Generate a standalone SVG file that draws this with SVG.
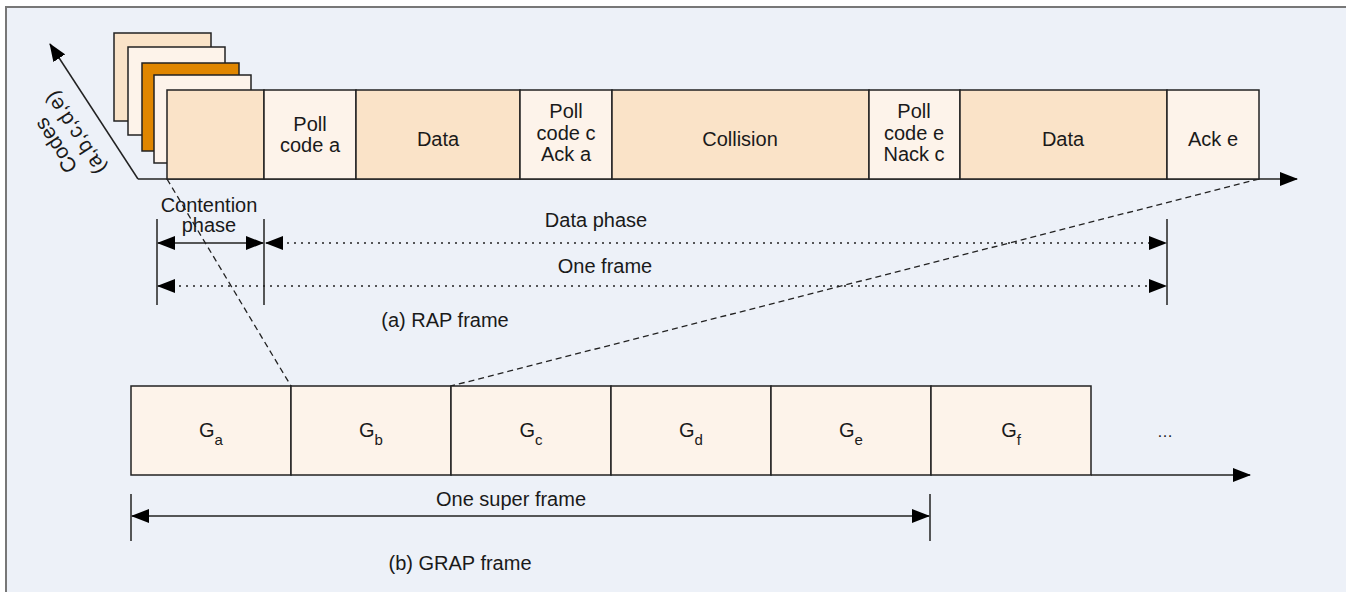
<svg xmlns="http://www.w3.org/2000/svg" width="1346" height="592" viewBox="0 0 1346 592">
<style>
text{font-family:"Liberation Sans",Arial,sans-serif;font-size:20px;fill:#1a1a1a;text-anchor:middle}
.dk{fill:#fae3c8;stroke:#222;stroke-width:1.5}
.lt{fill:#fdf3ea;stroke:#222;stroke-width:1.5}
.or{fill:#e08600;stroke:#222;stroke-width:1.5}
.ln{stroke:#222;stroke-width:1.5;fill:none}
.dot{stroke:#222;stroke-width:1.5;fill:none;stroke-dasharray:2,5}
.dash{stroke:#222;stroke-width:1.3;fill:none;stroke-dasharray:6,4}
.sub{font-size:15px}
.cl{font-size:21px}
</style>
<defs>
<marker id="ah" markerUnits="userSpaceOnUse" markerWidth="18" markerHeight="14" refX="17" refY="7" orient="auto-start-reverse"><path d="M0,0 L18,7 L0,14 z" fill="#000"/></marker>
</defs>
<rect x="0" y="0" width="1346" height="592" fill="#ffffff"/>
<rect x="6" y="7" width="1400" height="700" fill="#edf1f8" stroke="#777" stroke-width="2"/>

<g id="stack">
<rect class="dk" x="114" y="33" width="97" height="88"/>
<rect class="lt" x="128" y="47" width="97" height="88"/>
<rect class="or" x="142" y="63" width="97" height="88"/>
<rect class="lt" x="154" y="75" width="97" height="88"/>
</g>

<g id="connectors">
<line class="ln" x1="138" y1="179" x2="50" y2="44" marker-end="url(#ah)"/>
<line class="ln" x1="138" y1="179" x2="1297" y2="179" marker-end="url(#ah)"/>
<line class="dash" x1="167" y1="179" x2="291" y2="386"/>
<line class="dash" x1="1259" y1="179" x2="451" y2="386"/>
<line class="ln" x1="157" y1="219" x2="157" y2="305"/>
<line class="ln" x1="264" y1="219" x2="264" y2="305"/>
<line class="ln" x1="1167" y1="219" x2="1167" y2="305"/>
<line class="ln" x1="158" y1="243" x2="263" y2="243" marker-start="url(#ah)" marker-end="url(#ah)"/>
<line class="dot" x1="266" y1="243" x2="1166" y2="243" marker-start="url(#ah)" marker-end="url(#ah)"/>
<line class="dot" x1="158" y1="286" x2="1166" y2="286" marker-start="url(#ah)" marker-end="url(#ah)"/>
<line class="ln" x1="1091" y1="475" x2="1250" y2="475" marker-end="url(#ah)"/>
<line class="ln" x1="131" y1="494" x2="131" y2="541"/>
<line class="ln" x1="930" y1="494" x2="930" y2="541"/>
<line class="ln" x1="132" y1="516" x2="929" y2="516" marker-start="url(#ah)" marker-end="url(#ah)"/>
</g>

<g id="codes-label" transform="translate(66,139) rotate(-123)">
<text class="cl" x="0" y="-5">Codes</text>
<text class="cl" x="0" y="18">(a,b,c,d,e)</text>
</g>

<g id="rap-frame">
<g id="contention"><rect class="dk" x="167" y="90" width="97" height="89"/></g>
<g id="poll-a"><rect class="lt" x="264" y="90" width="92" height="89"/><text x="310" y="131">Poll</text><text x="310" y="152">code a</text></g>
<g id="data1"><rect class="dk" x="356" y="90" width="164" height="89"/><text x="438" y="146">Data</text></g>
<g id="poll-c"><rect class="lt" x="520" y="90" width="92" height="89"/><text x="566" y="118">Poll</text><text x="566" y="140">code c</text><text x="566" y="161">Ack a</text></g>
<g id="collision"><rect class="dk" x="612" y="90" width="257" height="89"/><text x="740" y="146">Collision</text></g>
<g id="poll-e"><rect class="lt" x="869" y="90" width="91" height="89"/><text x="914" y="118">Poll</text><text x="914" y="140">code e</text><text x="914" y="161">Nack c</text></g>
<g id="data2"><rect class="dk" x="960" y="90" width="207" height="89"/><text x="1063" y="146">Data</text></g>
<g id="ack-e"><rect class="lt" x="1167" y="90" width="92" height="89"/><text x="1213" y="146">Ack e</text></g>
</g>

<g id="rap-labels">
<text x="209" y="212">Contention</text>
<text x="209" y="232">phase</text>
<text x="596" y="227">Data phase</text>
<text x="605" y="273">One frame</text>
<text x="445" y="327">(a) RAP frame</text>
</g>

<g id="grap-frame">
<g id="Ga"><rect class="lt" x="131" y="386" width="160" height="89"/><text x="211" y="437">G<tspan class="sub" dy="8">a</tspan></text></g>
<g id="Gb"><rect class="lt" x="291" y="386" width="160" height="89"/><text x="371" y="437">G<tspan class="sub" dy="8">b</tspan></text></g>
<g id="Gc"><rect class="lt" x="451" y="386" width="160" height="89"/><text x="531" y="437">G<tspan class="sub" dy="8">c</tspan></text></g>
<g id="Gd"><rect class="lt" x="611" y="386" width="160" height="89"/><text x="691" y="437">G<tspan class="sub" dy="8">d</tspan></text></g>
<g id="Ge"><rect class="lt" x="771" y="386" width="160" height="89"/><text x="851" y="437">G<tspan class="sub" dy="8">e</tspan></text></g>
<g id="Gf"><rect class="lt" x="931" y="386" width="160" height="89"/><text x="1011" y="437">G<tspan class="sub" dy="8">f</tspan></text></g>
<text x="1165" y="437" style="font-size:16px">…</text>
<text x="511" y="506">One super frame</text>
<text x="460" y="570">(b) GRAP frame</text>
</g>
</svg>
